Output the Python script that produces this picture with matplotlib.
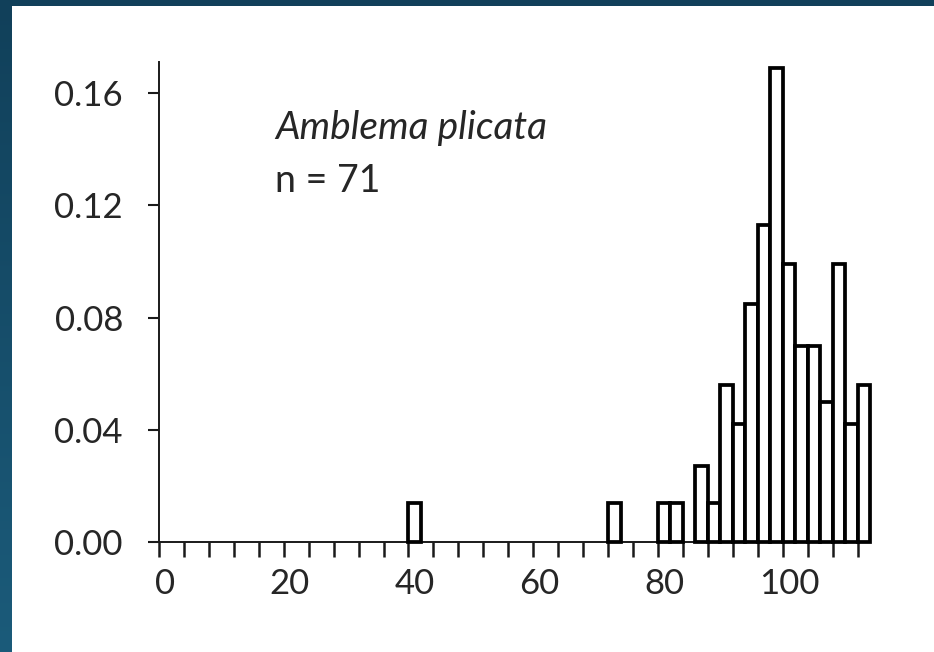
import matplotlib
matplotlib.use("Agg")
import matplotlib.pyplot as plt
from matplotlib.patches import Rectangle
from matplotlib.colors import LinearSegmentedColormap
import numpy as np

# bin centres (2-unit wide bins) and relative frequency
bin_centers = list(range(0, 114, 2))
rel_freq = [0.0] * 20 + [0.014] + [0.0] * 15 + [0.014, 0.0, 0.0, 0.0,
            0.014, 0.014, 0.0, 0.027, 0.014, 0.056, 0.042, 0.085, 0.113,
            0.169, 0.099, 0.070, 0.070, 0.050, 0.099, 0.042, 0.056]
x_labels = [0, 20, 40, 60, 80, 100]
y_ticks = [0.00, 0.04, 0.08, 0.12, 0.16]
species = "Amblema plicata"
n_obs = 71

plt.rcParams['font.family'] = ['Lato', 'DejaVu Sans']
txt_color = "#262626"

fig = plt.figure(figsize=(9.34, 6.52), dpi=100)

# dark blue frame with a soft vertical gradient
bg = fig.add_axes([0, 0, 1, 1], zorder=-10)
cmap = LinearSegmentedColormap.from_list("frame", ["#11405a", "#1b5b7a"])
bg.imshow(np.linspace(0, 1, 256).reshape(-1, 1), aspect="auto", cmap=cmap,
          extent=[0, 1, 0, 1])
bg.set_axis_off()
fig.add_artist(Rectangle((12/934, 0), 1 - 12/934, 1 - 6/652, transform=fig.transFigure,
                         facecolor="white", edgecolor="none", zorder=-5))

ax = fig.add_axes([159/934, 1 - 542/652, (870 - 159)/934, (542 - 62)/652])
ax.patch.set_alpha(0)

centers = np.array(bin_centers)
freq = np.array(rel_freq)
keep = freq > 0
bars = ax.bar(centers[keep], freq[keep], width=2, facecolor="white", edgecolor="black",
              linewidth=2.7, zorder=3)
for b in bars:
    b.set_clip_on(False)

ax.set_xlim(-1, 113)
ax.set_ylim(0, 0.1711)

for s in ["top", "right"]:
    ax.spines[s].set_visible(False)
for s in ["left", "bottom"]:
    ax.spines[s].set_linewidth(1.4)
    ax.spines[s].set_color("#1a1a1a")

ax.set_xticks(x_labels)
ax.set_xticklabels([str(v) for v in x_labels])
ax.set_xticks(np.arange(-1, 112, 4), minor=True)
ax.tick_params(axis="x", which="major", length=0, pad=19, labelsize=25, labelcolor=txt_color)
ax.tick_params(axis="x", which="minor", length=10.5, width=1.8, direction="out", color="#1a1a1a")

ax.set_yticks(y_ticks)
ax.set_yticklabels(["%.2f" % v for v in y_ticks])
ax.tick_params(axis="y", which="major", length=8, width=1.5, pad=18, labelsize=25,
               labelcolor=txt_color, color="#1a1a1a")

fig.text(275/934, 1 - 139/652, species, style="italic", fontsize=28, color=txt_color,
         va="baseline", ha="left")
fig.text(275/934, 1 - 192/652, "n = %d" % n_obs, fontsize=27, color=txt_color,
         va="baseline", ha="left")

fig.savefig("out.png", dpi=100)
